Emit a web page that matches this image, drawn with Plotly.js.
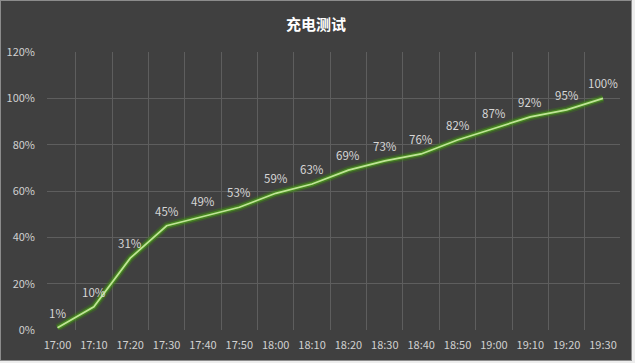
<!DOCTYPE html>
<html><head><meta charset="utf-8">
<script src="https://cdn.plot.ly/plotly-3.0.1.min.js"></script>
<style>
html,body{margin:0;padding:0;background:#ededed;}
#frame{position:absolute;left:0;top:0;width:630px;height:359px;border:1px solid #8c8c8c;background:#404040;}
#chart{width:630px;height:359px;}
</style></head><body>
<div id="frame"><div id="chart"></div></div>
<script>
const times = ["17:00","17:10","17:20","17:30","17:40","17:50","18:00","18:10","18:20","18:30","18:40","18:50","19:00","19:10","19:20","19:30"];
const charge = [1,10,31,45,49,53,59,63,69,73,76,82,87,92,95,100];
const labels = charge.map(v => v + "%");
const font = "'Noto Sans CJK SC', 'Noto Sans', sans-serif";

const glow = {x: times, y: charge, type: 'scatter', mode: 'lines',
  line: {color: 'rgba(60,130,20,0.35)', width: 8}, hoverinfo: 'skip'};
const glow2 = {x: times, y: charge, type: 'scatter', mode: 'lines',
  line: {color: 'rgba(75,150,30,0.75)', width: 4.5}, hoverinfo: 'skip'};
const main = {x: times, y: charge, type: 'scatter', mode: 'lines',
  line: {color: '#bfe596', width: 1.7}};

const annotations = times.map((t, i) => ({
  x: t, y: charge[i], text: labels[i], showarrow: false,
  xanchor: 'center', yanchor: 'bottom', yshift: 5,
  font: {color: '#d6d6d6', size: 11.5, family: font}
}));

const layout = {
  width: 630, height: 359,
  paper_bgcolor: '#404040', plot_bgcolor: '#404040',
  margin: {l: 46, r: 11, t: 51, b: 30},
  showlegend: false,
  annotations: annotations,
  title: {text: '<b>充电测试</b>', font: {color: '#ffffff', size: 15, family: font},
    x: 0.5, xanchor: 'center', y: 0.933, yanchor: 'middle', yref: 'container'},
  xaxis: {type: 'category', tickson: 'boundaries', showgrid: true, gridcolor: '#5e5e5e', gridwidth: 1,
    ticks: '', showline: false, zeroline: false, tickangle: 0, automargin: false, ticklabelstandoff: 7,
    tickfont: {color: '#d0d0d0', size: 11, family: font}},
  yaxis: {range: [0, 120], dtick: 20, ticksuffix: '%', showgrid: true, gridcolor: '#5e5e5e',
    zeroline: false, showline: false, ticks: '', ticklabelstandoff: 11, automargin: false,
    tickfont: {color: '#d0d0d0', size: 11, family: font}}
};
Plotly.newPlot('chart', [glow, glow2, main], layout, {staticPlot: true});
</script></body></html>
